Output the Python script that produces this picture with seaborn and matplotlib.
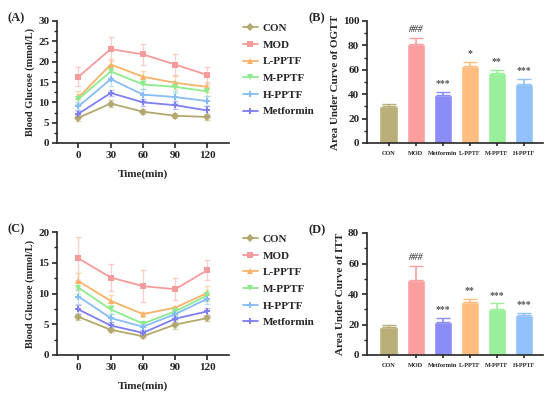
import numpy as np
import pandas as pd
import seaborn as sns
import matplotlib.pyplot as plt

# ---- data ----
times = [0, 30, 60, 90, 120]
groups = ["CON", "MOD", "L-PPTF", "M-PPTF", "H-PPTF", "Metformin"]

ogtt_mean = {
    "CON": [6.2, 9.7, 7.7, 6.7, 6.4],
    "MOD": [16.3, 23.1, 21.8, 19.3, 16.7],
    "L-PPTF": [11.2, 19.3, 16.3, 14.8, 13.8],
    "M-PPTF": [10.8, 17.6, 14.4, 13.8, 12.7],
    "H-PPTF": [9.0, 15.7, 11.9, 11.3, 10.3],
    "Metformin": [7.2, 12.3, 10.0, 9.3, 8.0],
}
ogtt_sd = {
    "CON": [0.8, 0.9, 0.6, 0.6, 0.7],
    "MOD": [2.3, 2.9, 2.6, 2.5, 2.1],
    "L-PPTF": [1.5, 1.4, 1.5, 1.6, 1.3],
    "M-PPTF": [1.3, 1.5, 1.2, 1.4, 1.2],
    "H-PPTF": [1.2, 1.8, 1.5, 1.4, 1.3],
    "Metformin": [0.9, 0.8, 0.9, 1.0, 1.0],
}

itt_mean = {
    "CON": [6.2, 4.1, 3.05, 4.95, 6.0],
    "MOD": [15.7, 12.6, 11.2, 10.7, 13.8],
    "L-PPTF": [12.0, 8.8, 6.65, 7.7, 10.1],
    "M-PPTF": [10.95, 7.4, 5.1, 7.1, 9.7],
    "H-PPTF": [9.5, 6.0, 4.6, 6.65, 9.15],
    "Metformin": [7.4, 4.8, 3.6, 5.9, 7.1],
}
itt_sd = {
    "CON": [0.5, 0.4, 0.3, 0.7, 0.4],
    "MOD": [3.5, 2.2, 2.6, 1.8, 1.6],
    "L-PPTF": [1.4, 0.9, 0.4, 0.3, 1.2],
    "M-PPTF": [1.0, 0.8, 0.5, 0.6, 0.9],
    "H-PPTF": [1.2, 0.7, 0.5, 0.6, 0.8],
    "Metformin": [0.7, 0.5, 0.4, 0.5, 0.6],
}

bar_groups = ["CON", "MOD", "Metformin", "L-PPTF", "M-PPTF", "H-PPTF"]
ogtt_auc = [30.0, 81.1, 39.1, 63.1, 57.4, 48.4]
ogtt_auc_sd = [2.0, 5.0, 2.7, 3.5, 2.7, 4.3]
ogtt_sig = ["", "###", "***", "*", "**", "***"]
itt_auc = [18.4, 49.4, 21.6, 34.5, 29.9, 26.4]
itt_auc_sd = [1.1, 9.2, 2.7, 2.4, 4.0, 1.1]
itt_sig = ["", "###", "***", "**", "***", "***"]

colors = {
    "CON": "#B3A96E",
    "MOD": "#F59B9B",
    "L-PPTF": "#F8B26A",
    "M-PPTF": "#8DEB8D",
    "H-PPTF": "#86BDF6",
    "Metformin": "#7F7FF2",
}
bar_colors = {
    "CON": "#BAAF78",
    "MOD": "#FA9E9E",
    "Metformin": "#8C8CF9",
    "L-PPTF": "#FFBE80",
    "M-PPTF": "#9AF09A",
    "H-PPTF": "#90C1FA",
}
markers = {"CON": "D", "MOD": "s", "L-PPTF": "^", "M-PPTF": "v",
           "H-PPTF": "P", "Metformin": "P"}

sns.set_style("ticks")
plt.rcParams["font.family"] = ["Liberation Serif", "DejaVu Serif"]
plt.rcParams["font.weight"] = "bold"
plt.rcParams["axes.labelweight"] = "bold"

fig = plt.figure(figsize=(5.5, 4), dpi=100)
axA = fig.add_axes([0.1036, 0.6425, 0.3127, 0.305])
axB = fig.add_axes([0.667, 0.6425, 0.32, 0.305])
axC = fig.add_axes([0.1036, 0.1125, 0.3127, 0.3075])
axD = fig.add_axes([0.667, 0.1125, 0.32, 0.305])


def style_axes(ax):
    sns.despine(ax=ax)
    for s in ["left", "bottom"]:
        ax.spines[s].set_linewidth(1.2)
    ax.tick_params(width=1.2, length=3.5, labelsize=8, pad=2)
    ax.tick_params(which="minor", width=1.0, length=2)
    for lab in ax.get_xticklabels() + ax.get_yticklabels():
        lab.set_fontweight("bold")


def line_panel(ax, means, sds, ymax, ystep, label):
    rows = []
    for g in groups:
        for t, v in zip(times, means[g]):
            rows.append({"time": t, "glucose": v, "group": g})
    df = pd.DataFrame(rows)
    for g in groups:
        ax.errorbar(times, means[g], yerr=sds[g], fmt="none",
                    ecolor=colors[g], alpha=0.45, elinewidth=1.0, capsize=2)
    sns.lineplot(data=df, x="time", y="glucose", hue="group", style="group",
                 hue_order=groups, style_order=groups, palette=colors,
                 markers=markers, dashes=False, markersize=4.5,
                 markeredgewidth=0, linewidth=1.3, errorbar=None, ax=ax)
    ax.set_xlim(-20, 140)
    ax.set_ylim(0, ymax)
    ax.set_xticks(times)
    ax.set_yticks(np.arange(0, ymax + 1, ystep))
    ax.set_yticks(np.arange(0, ymax + 0.1, ystep / 2), minor=True)
    ax.set_xlabel("Time(min)", fontsize=8, fontweight="bold", labelpad=7)
    ax.set_ylabel("Blood Glucose (mmol/L)", fontsize=7.5, fontweight="bold",
                  labelpad=2)
    handles, labels = ax.get_legend_handles_labels()
    ax.legend(handles, labels, loc="upper left", bbox_to_anchor=(1.025, 1.063),
              frameon=False, handlelength=1.3, handletextpad=0.45,
              labelspacing=0.62, prop={"size": 8, "weight": "bold"})
    style_axes(ax)
    ax.text(-0.29, 1.02, label, transform=ax.transAxes, fontsize=9,
            fontweight="bold", va="center")


def bar_panel(ax, vals, sds, sigs, ymax, ylabel, label):
    df = pd.DataFrame({"group": bar_groups, "auc": vals})
    sns.barplot(data=df, x="group", y="auc", hue="group", order=bar_groups,
                palette=bar_colors, width=0.67, errorbar=None, legend=False,
                saturation=1, ax=ax)
    x = np.arange(len(bar_groups))
    for i, g in enumerate(bar_groups):
        ax.errorbar(x[i], vals[i], yerr=[[0], [sds[i]]], fmt="none",
                    ecolor=bar_colors[g], elinewidth=1.2, capsize=5)
        if sigs[i]:
            ax.text(x[i], vals[i] + sds[i] + ymax * 0.03, sigs[i],
                    ha="center", va="bottom", fontsize=7, color="#555555",
                    style="italic" if "#" in sigs[i] else "normal")
    ax.set_xlim(-0.8, 5.7)
    ax.set_ylim(0, ymax)
    ax.set_yticks(np.arange(0, ymax + 1, 20))
    ax.set_yticks(np.arange(0, ymax + 1, 10), minor=True)
    ax.set_xlabel("")
    ax.set_ylabel(ylabel, fontsize=8, fontweight="bold", labelpad=2)
    style_axes(ax)
    ax.tick_params(axis="x", labelsize=4.5, length=2.5, pad=3)
    for lab in ax.get_xticklabels():
        lab.set_fontweight("bold")
    ax.text(-0.33, 1.02, label, transform=ax.transAxes, fontsize=9,
            fontweight="bold", va="center")


line_panel(axA, ogtt_mean, ogtt_sd, 30, 5, "(A)")
bar_panel(axB, ogtt_auc, ogtt_auc_sd, ogtt_sig, 100,
          "Area Under Curve of OGTT", "(B)")
line_panel(axC, itt_mean, itt_sd, 20, 5, "(C)")
bar_panel(axD, itt_auc, itt_auc_sd, itt_sig, 80,
          "Area Under Curve of ITT", "(D)")

fig.savefig("out.png", dpi=100)
